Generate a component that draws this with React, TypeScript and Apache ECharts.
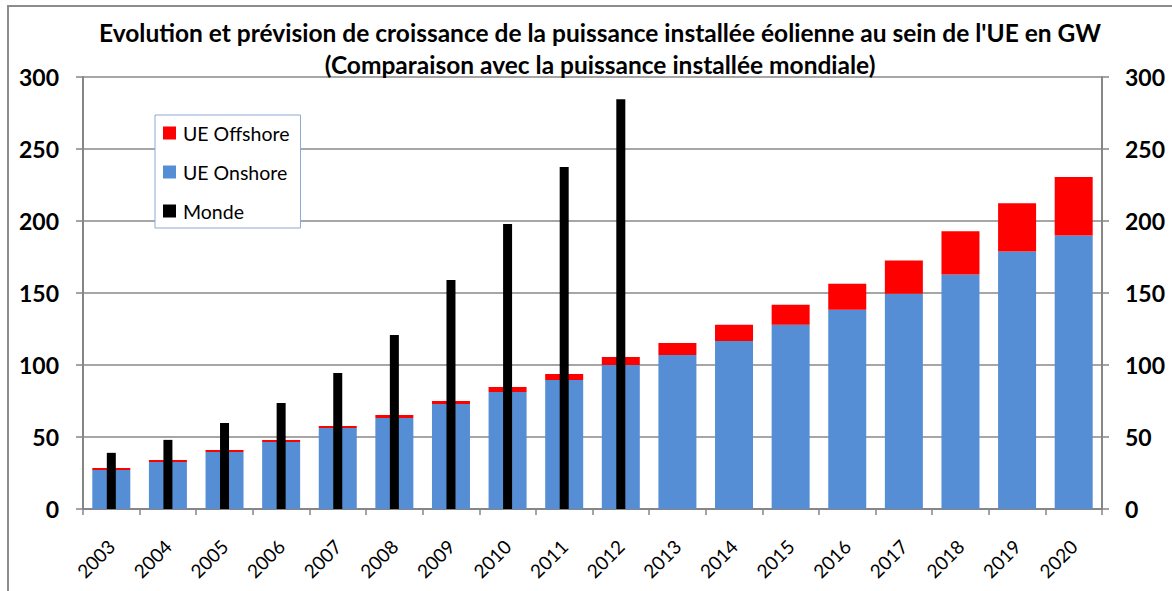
import React, { useEffect, useRef } from "react";
import * as echarts from "echarts";

const years = ["2003", "2004", "2005", "2006", "2007", "2008", "2009", "2010", "2011", "2012", "2013", "2014", "2015", "2016", "2017", "2018", "2019", "2020"];
const onshore = [27.1, 32.6, 39.6, 46.5, 56.3, 63.2, 72.9, 81.3, 89.6, 100, 107, 116.7, 127.9, 138.4, 149.5, 162.8, 178.8, 190];
const offshore = [1.4, 1.4, 1.4, 1.4, 1.3, 2.1, 2.1, 3.4, 4.2, 5.6, 8.3, 11.2, 14.0, 18.1, 23.1, 30.0, 33.5, 40.5];
const monde = [39, 48, 59.7, 73.6, 94.4, 120.8, 159, 198, 237.5, 284.5, null, null, null, null, null, null, null, null];
const titleLines = [
  "Evolution et prévision de croissance de la puissance installée éolienne au sein de l'UE en GW",
  "(Comparaison avec la puissance installée mondiale)",
];

const FONT = "Lato";

export default function App() {
  const ref = useRef<HTMLDivElement>(null);
  useEffect(() => {
    const chart = echarts.init(ref.current!, undefined, { renderer: "svg" });
    const yLabel = { fontSize: 23, fontWeight: "bold" as const, color: "#000", fontFamily: FONT };
    chart.setOption({
      animation: false,
      backgroundColor: "#fff",
      title: {
        text: titleLines.join("\n"),
        left: 595,
        textAlign: "center",
        top: 11,
        textStyle: { fontSize: 24.5, fontWeight: "bold", color: "#000", fontFamily: FONT, lineHeight: 32 },
      },
      graphic: [
        {
          type: "rect",
          shape: { x: 8, y: 6, width: 1300, height: 800 },
          style: { fill: "none", stroke: "#8c8c8c", lineWidth: 2 },
          silent: true,
        },
      ],
      legend: {
        orient: "vertical",
        left: 155,
        top: 115,
        data: ["UE Offshore", "UE Onshore", "Monde"],
        icon: "rect",
        itemWidth: 13,
        itemHeight: 13,
        itemGap: 19,
        padding: [8, 11, 7, 8],
        backgroundColor: "#fff",
        borderColor: "#8fa8d2",
        borderWidth: 1,
        textStyle: { fontSize: 19.5, color: "#000", fontFamily: FONT, lineHeight: 20, padding: [0, 0, 0, 2] },
      },
      grid: { left: 83, right: 70, top: 77, bottom: 82, containLabel: false },
      xAxis: [
        {
          type: "category",
          data: years,
          axisLine: { lineStyle: { color: "#868686", width: 2 } },
          axisTick: { show: true, length: 6, lineStyle: { color: "#868686", width: 1.5 } },
          axisLabel: { rotate: 45, fontSize: 19, color: "#000", fontFamily: FONT, margin: 34, interval: 0 },
        },
        {
          type: "category",
          data: years,
          show: false,
        },
      ],
      yAxis: [
        {
          type: "value",
          min: 0,
          max: 300,
          interval: 50,
          axisLine: { show: true, lineStyle: { color: "#868686", width: 2 } },
          axisTick: { show: true, length: 7, lineStyle: { color: "#868686", width: 1.5 } },
          axisLabel: { ...yLabel, margin: 24 },
          splitLine: { show: true, lineStyle: { color: "#a6a6a6", width: 2 } },
        },
        {
          type: "value",
          position: "right",
          min: 0,
          max: 300,
          interval: 50,
          axisLine: { show: true, lineStyle: { color: "#868686", width: 2 } },
          axisTick: { show: true, length: 7, lineStyle: { color: "#868686", width: 1.5 } },
          axisLabel: { ...yLabel, margin: 23 },
          splitLine: { show: false },
        },
      ],
      series: [
        {
          name: "UE Onshore",
          type: "bar",
          stack: "ue",
          data: onshore,
          barWidth: 38,
          itemStyle: { color: "#558ED5" },
          xAxisIndex: 0,
          yAxisIndex: 0,
        },
        {
          name: "UE Offshore",
          type: "bar",
          stack: "ue",
          data: offshore,
          barWidth: 38,
          itemStyle: { color: "#FF0000" },
          xAxisIndex: 0,
          yAxisIndex: 0,
        },
        {
          name: "Monde",
          type: "bar",
          data: monde,
          barWidth: 9,
          itemStyle: { color: "#000000" },
          xAxisIndex: 1,
          yAxisIndex: 1,
          z: 3,
        },
      ],
    });
    return () => chart.dispose();
  }, []);
  return <div ref={ref} style={{ position: "absolute", left: 0, top: 0, width: 1172, height: 591 }} />;
}
